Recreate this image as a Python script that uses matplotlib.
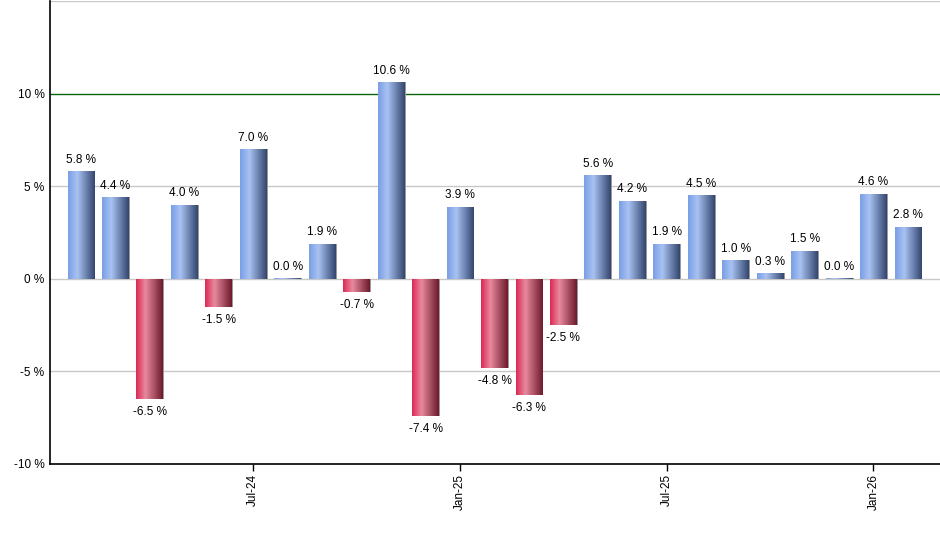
import numpy as np
import matplotlib.pyplot as plt
from matplotlib.colors import LinearSegmentedColormap

# monthly returns, Feb-24 .. Feb-26
months = ['Feb-24', 'Mar-24', 'Apr-24', 'May-24', 'Jun-24', 'Jul-24', 'Aug-24', 'Sep-24',
          'Oct-24', 'Nov-24', 'Dec-24', 'Jan-25', 'Feb-25', 'Mar-25', 'Apr-25', 'May-25',
          'Jun-25', 'Jul-25', 'Aug-25', 'Sep-25', 'Oct-25', 'Nov-25', 'Dec-25', 'Jan-26', 'Feb-26']
returns = [5.8, 4.4, -6.5, 4.0, -1.5, 7.0, 0.04, 1.9, -0.7, 10.6, -7.4, 3.9, -4.8,
           -6.3, -2.5, 5.6, 4.2, 1.9, 4.5, 1.0, 0.3, 1.5, 0.04, 4.6, 2.8]
tick_months = ['Jul-24', 'Jan-25', 'Jul-25', 'Jan-26']
y_ticks = [-10, -5, 0, 5, 10]

plt.rcParams['font.family'] = ['Liberation Sans', 'DejaVu Sans']

blue_cm = LinearSegmentedColormap.from_list('b', [(0, '#7a9fe6'), (0.35, '#a9c2f2'), (1, '#33466f')])
red_cm = LinearSegmentedColormap.from_list('r', [(0, '#dc2a55'), (0.35, '#e88a9f'), (1, '#6e1a2c')])
grad = np.linspace(0, 1, 64).reshape(1, -1)

fig = plt.figure(figsize=(9.4, 5.5), dpi=100)
ax = fig.add_axes([50 / 940, 86 / 550, 890 / 940, 463 / 550])

x = np.arange(len(months))
bars = ax.bar(x, returns, width=0.78, color='none', edgecolor='none', zorder=3)

for b, v in zip(bars, returns):
    x0, y0 = b.get_x(), b.get_y()
    w, h = b.get_width(), b.get_height()
    # little gray shadow on the right side
    ax.add_patch(plt.Rectangle((x0 + 0.03, min(y0, y0 + h)), w, abs(h),
                               color='#9a9a9a', zorder=2.5, lw=0))
    im = ax.imshow(grad, cmap=blue_cm if v >= 0 else red_cm, aspect='auto',
                   extent=[x0, x0 + w, min(y0, y0 + h), max(y0, y0 + h)],
                   interpolation='bilinear', zorder=3)
    im.set_clip_path(b)
    if v >= 0:
        ax.annotate(f'{v:.1f} %', (x0 + w / 2, v), xytext=(0, 4), textcoords='offset points',
                    ha='center', va='bottom', fontsize=8.5)
    else:
        ax.annotate(f'{v:.1f} %', (x0 + w / 2, v), xytext=(0, -5), textcoords='offset points',
                    ha='center', va='top', fontsize=8.5)

ax.set_xlim(-0.9, len(months) - 0.07)
ax.set_ylim(-10, 15)

for yv in [-5, 0, 5, 15]:
    ax.axhline(yv, color='#c8c8c8', lw=1, zorder=1)
ax.axhline(10, color='#0a640a', lw=1, zorder=1)

ax.set_yticks(y_ticks)
ax.set_yticklabels([f'{t} %' for t in y_ticks], fontsize=8.5)
ax.tick_params(axis='y', length=0, pad=4)

ax.set_xticks([months.index(m) for m in tick_months])
ax.set_xticklabels(tick_months, rotation=90, fontsize=8.5)
ax.tick_params(axis='x', length=5, width=1, pad=2)

for s in ['top', 'right']:
    ax.spines[s].set_visible(False)
ax.spines['left'].set_linewidth(1.2)
ax.spines['bottom'].set_linewidth(1.2)

fig.savefig('out.png', dpi=100)
